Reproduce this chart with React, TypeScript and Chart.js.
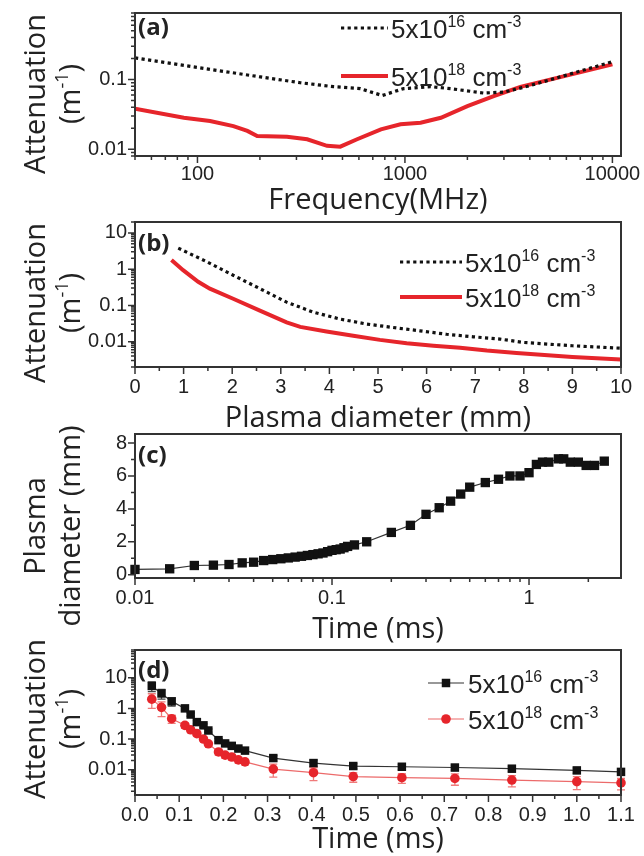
import React, { useEffect, useRef } from 'react';
import { Chart, registerables } from 'chart.js';
Chart.register(...registerables);

const TICK_FONT = '"Liberation Sans", Arial, sans-serif';
const TITLE_FONT = '"Open Sans", sans-serif';
const INK = '#222';
const RED = '#e6252b';
const TITLE_SIZE = 29;

// ---------- (a) attenuation vs frequency ----------
const A_FREQ_16 = [50, 103, 201, 313, 452, 610, 777, 985, 1330, 1660, 2390, 3000, 3900, 10000];
const A_ATT_16 = [0.204, 0.147, 0.109, 0.09, 0.079, 0.074, 0.059, 0.074, 0.079, 0.074, 0.064, 0.066, 0.08, 0.18];
const A_FREQ_18 = [50, 86, 115, 149, 174, 194, 270, 338, 421, 488, 588, 766, 952, 1190, 1490, 2000, 2680, 3600, 10000];
const A_ATT_18 = [0.038, 0.0283, 0.0254, 0.0215, 0.0183, 0.0155, 0.0151, 0.0139, 0.0112, 0.0109, 0.0139, 0.0193, 0.0228, 0.024, 0.0283, 0.0416, 0.0577, 0.0786, 0.165];
const A_X_MAJOR = [100, 1000, 10000];
const A_Y_MAJOR = [0.01, 0.1];

// ---------- (b) attenuation vs plasma diameter ----------
const B_DIA_16 = [0.89, 1.47, 2.02, 2.57, 3.12, 3.67, 4.22, 4.77, 5.31, 5.86, 6.41, 6.96, 7.51, 8, 9, 10];
const B_ATT_16 = [3.8, 1.62, 0.68, 0.29, 0.123, 0.065, 0.042, 0.0306, 0.0246, 0.0199, 0.016, 0.0136, 0.0118, 0.0095, 0.0077, 0.0066];
const B_DIA_18 = [0.75, 0.99, 1.3, 1.54, 2.02, 2.57, 3.12, 3.4, 3.94, 4.49, 5.04, 5.59, 6.14, 6.69, 7.24, 7.85, 9, 10];
const B_ATT_18 = [1.8, 0.94, 0.45, 0.29, 0.153, 0.072, 0.034, 0.0256, 0.019, 0.0145, 0.0112, 0.009, 0.0077, 0.0068, 0.0057, 0.0049, 0.0038, 0.0032];
const B_X_MAJOR = [0, 1, 2, 3, 4, 5, 6, 7, 8, 9, 10];
const B_Y_MAJOR = [0.01, 0.1, 1, 10];

// ---------- (c) plasma diameter vs time ----------
const C_TIME = [0.01, 0.015, 0.02, 0.025, 0.03, 0.035, 0.04, 0.045, 0.05, 0.055, 0.06, 0.065, 0.07, 0.075, 0.08, 0.085, 0.09, 0.095, 0.1, 0.105, 0.11, 0.115, 0.12, 0.13, 0.15, 0.2, 0.25, 0.3, 0.35, 0.4, 0.45, 0.5, 0.6, 0.7, 0.8, 0.9, 1.0, 1.09, 1.17, 1.26, 1.41, 1.5, 1.62, 1.78, 1.95, 2.15, 2.41];
const C_DIA = [0.32, 0.36, 0.56, 0.58, 0.62, 0.72, 0.76, 0.86, 0.92, 0.97, 1.02, 1.07, 1.12, 1.17, 1.22, 1.27, 1.32, 1.4, 1.48, 1.52, 1.56, 1.64, 1.72, 1.81, 2.0, 2.57, 3.0, 3.67, 4.07, 4.47, 4.9, 5.32, 5.6, 5.8, 6.0, 6.0, 6.2, 6.7, 6.84, 6.84, 7.04, 7.04, 6.84, 6.84, 6.64, 6.64, 6.9];
const C_X_MAJOR = [0.01, 0.1, 1];
const C_Y_MAJOR = [0, 2, 4, 6, 8];

// ---------- (d) attenuation vs time ----------
const D_TIME = [0.038, 0.06, 0.083, 0.113, 0.126, 0.14, 0.155, 0.166, 0.189, 0.204, 0.219, 0.234, 0.249, 0.313, 0.404, 0.494, 0.604, 0.724, 0.853, 1.0, 1.1];
const D_ATT_16 = [5.37, 3.06, 1.69, 1.0, 0.63, 0.357, 0.28, 0.19, 0.092, 0.072, 0.06, 0.049, 0.042, 0.024, 0.0165, 0.0132, 0.0125, 0.0118, 0.0108, 0.0095, 0.0085];
const D_ERR_16 = [0.35, 0.35, 0.3, 0.15, 0.12, 0.12, 0.12, 0.12, 0.12, 0.12, 0.12, 0.12, 0.12, 0.2, 0.25, 0.2, 0.2, 0.2, 0.2, 0.2, 0.2];
const D_ATT_18 = [2.0, 1.08, 0.46, 0.28, 0.2, 0.15, 0.1, 0.07, 0.038, 0.03, 0.026, 0.021, 0.018, 0.0105, 0.008, 0.006, 0.0055, 0.0052, 0.0046, 0.0041, 0.0037];
const D_ERR_18 = [0.5, 0.5, 0.3, 0.2, 0.15, 0.15, 0.15, 0.15, 0.2, 0.2, 0.2, 0.2, 0.2, 0.45, 0.45, 0.35, 0.35, 0.4, 0.4, 0.45, 0.4];
const D_X_MAJOR = [0, 0.1, 0.2, 0.3, 0.4, 0.5, 0.6, 0.7, 0.8, 0.9, 1.0, 1.1];
const D_Y_MAJOR = [0.01, 0.1, 1, 10];

// legend labels (base, superscript, base, superscript)
const LEG_16 = [{ t: '5x10' }, { t: '16', sup: true }, { t: ' cm' }, { t: '-3', sup: true }];
const LEG_18 = [{ t: '5x10' }, { t: '18', sup: true }, { t: ' cm' }, { t: '-3', sup: true }];
const Y_ATT = [[{ t: 'Attenuation' }], [{ t: '(m' }, { t: '-1', sup: true }, { t: ')' }]];
const Y_DIA = [[{ t: 'Plasma' }], [{ t: 'diameter (mm)' }]];

type Part = { t: string; sup?: boolean };

const near = (a: number, b: number) => Math.abs(a - b) <= Math.abs(b) * 1e-6 + 1e-9;

function logTicks(min: number, max: number, majors: number[]) {
  const out: any[] = [];
  for (let e = Math.floor(Math.log10(min)) - 1; e <= Math.ceil(Math.log10(max)); e++) {
    for (let m = 1; m <= 9; m++) {
      const v = parseFloat((m * Math.pow(10, e)).toPrecision(8));
      if (v >= min * 0.9999 && v <= max * 1.0001) {
        const mj = majors.find((x) => near(v, x));
        out.push({ value: v, lab: mj !== undefined ? String(mj) : '' });
      }
    }
  }
  return out;
}

function linTicks(min: number, max: number, step: number, majors: number[], fmt: (v: number) => string) {
  const out: any[] = [];
  const n = Math.round((max - min) / step);
  for (let i = 0; i <= n; i++) {
    const v = parseFloat((min + i * step).toFixed(6));
    const mj = majors.find((x) => near(v, x));
    out.push({ value: v, lab: mj !== undefined ? fmt(mj) : '' });
  }
  return out;
}

function drawRich(ctx: CanvasRenderingContext2D, parts: Part[], x: number, y: number, size: number, family: string, align: 'left' | 'center', weight = 'normal') {
  const sup = Math.round(size * 0.62);
  const rise = size * 0.4;
  const ws = parts.map((p) => {
    ctx.font = `${weight} ${p.sup ? sup : size}px ${family}`;
    return ctx.measureText(p.t).width;
  });
  const total = ws.reduce((a, b) => a + b, 0);
  let cx = align === 'center' ? x - total / 2 : x;
  ctx.textAlign = 'left';
  ctx.textBaseline = 'alphabetic';
  parts.forEach((p, i) => {
    ctx.font = `${weight} ${p.sup ? sup : size}px ${family}`;
    ctx.fillText(p.t, cx, p.sup ? y - rise : y);
    cx += ws[i];
  });
}

type Decor = {
  tag: string;
  tagDy: number;
  ytitle: Part[][];
  ytitleX: number[];
  ytitleY: number;
  legend: { ds: number; x0: number; x1: number; dy: number; tx: number; parts: Part[] }[];
};

function makeDecor(d: Decor) {
  return {
    id: 'decor',
    beforeDatasetsDraw(chart: any) {
      const ctx = chart.ctx;
      const ys = chart.scales.y;
      chart.data.datasets.forEach((ds: any, i: number) => {
        if (!ds.errs) return;
        const meta = chart.getDatasetMeta(i);
        ctx.save();
        ctx.strokeStyle = ds.errColor;
        ctx.lineWidth = 1.3;
        meta.data.forEach((pt: any, j: number) => {
          const v = ds.data[j].y;
          const e = ds.errs[j];
          const y0 = ys.getPixelForValue(v * (1 - e));
          const y1 = ys.getPixelForValue(v * (1 + e));
          ctx.beginPath();
          ctx.moveTo(pt.x, y0); ctx.lineTo(pt.x, y1);
          ctx.moveTo(pt.x - 4, y0); ctx.lineTo(pt.x + 4, y0);
          ctx.moveTo(pt.x - 4, y1); ctx.lineTo(pt.x + 4, y1);
          ctx.stroke();
        });
        ctx.restore();
      });
    },
    afterDraw(chart: any) {
      const ctx: CanvasRenderingContext2D = chart.ctx;
      const ca = chart.chartArea;
      const xs = chart.scales.x;
      const ys = chart.scales.y;
      ctx.save();
      // tick marks (major long, minor short), outward
      ctx.strokeStyle = '#333';
      ctx.lineWidth = 1.5;
      ctx.beginPath();
      xs.ticks.forEach((t: any) => {
        const p = xs.getPixelForValue(t.value);
        const len = t.lab ? 7 : 4;
        ctx.moveTo(p, ca.bottom); ctx.lineTo(p, ca.bottom + len);
      });
      ys.ticks.forEach((t: any) => {
        const p = ys.getPixelForValue(t.value);
        const len = t.lab ? 7 : 4;
        ctx.moveTo(ca.left - len, p); ctx.lineTo(ca.left, p);
      });
      ctx.stroke();
      // frame
      ctx.lineWidth = 2;
      ctx.strokeRect(ca.left, ca.top, ca.right - ca.left, ca.bottom - ca.top);
      // panel tag
      ctx.fillStyle = INK;
      ctx.font = `bold 24px ${TITLE_FONT}`;
      ctx.textAlign = 'left';
      ctx.textBaseline = 'middle';
      ctx.fillText(d.tag, ca.left + 3, ca.top + d.tagDy);
      // y title (rotated, two lines)
      d.ytitle.forEach((parts, i) => {
        ctx.save();
        ctx.translate(d.ytitleX[i], d.ytitleY);
        ctx.rotate(-Math.PI / 2);
        ctx.fillStyle = INK;
        drawRich(ctx, parts, 0, 0, TITLE_SIZE, TITLE_FONT, 'center');
        ctx.restore();
      });
      // legend
      d.legend.forEach((L) => {
        const ds = chart.data.datasets[L.ds];
        const y = ca.top + L.dy;
        const x0 = ca.left + L.x0;
        const x1 = ca.left + L.x1;
        ctx.save();
        ctx.strokeStyle = ds.borderColor;
        ctx.lineWidth = ds.borderWidth;
        ctx.setLineDash(ds.borderDash || []);
        ctx.beginPath();
        ctx.moveTo(x0, y); ctx.lineTo(x1, y);
        ctx.stroke();
        ctx.setLineDash([]);
        if (ds.pointRadius > 0) {
          const mx = (x0 + x1) / 2;
          ctx.fillStyle = ds.pointBackgroundColor;
          if (ds.pointStyle === 'rect') {
            const s = ds.pointRadius * Math.SQRT1_2;
            ctx.fillRect(mx - s, y - s, 2 * s, 2 * s);
          } else {
            ctx.beginPath();
            ctx.arc(mx, y, ds.pointRadius, 0, Math.PI * 2);
            ctx.fill();
          }
        }
        ctx.fillStyle = INK;
        drawRich(ctx, L.parts, ca.left + L.tx, y + 9.5, 26, TICK_FONT, 'left');
        ctx.restore();
      });
      ctx.restore();
    },
  };
}

function scaleCfg(opts: {
  axis: 'x' | 'y'; type: string; min: number; max: number; ticks: any[]; size: number; title?: string; titlePB?: number; pad: number;
}) {
  const o: any = {
    type: opts.type,
    min: opts.min,
    max: opts.max,
    afterBuildTicks: (s: any) => {
      s.ticks = opts.ticks.map((t) => ({ value: t.value, lab: t.lab }));
    },
    afterFit: (s: any) => {
      if (opts.axis === 'y') {
        s.width = opts.size;
        s.paddingTop = 0;
        s.paddingBottom = 0;
      } else {
        s.height = opts.size;
        s.paddingLeft = 0;
        s.paddingRight = 0;
      }
    },
    grid: { display: false, drawTicks: false },
    border: { display: false },
    ticks: {
      autoSkip: false,
      maxRotation: 0,
      minRotation: 0,
      padding: opts.pad,
      color: INK,
      font: { family: TICK_FONT, size: 20 },
      callback: (_v: any, i: number, ticks: any[]) => ticks[i].lab || '',
    },
  };
  if (opts.title) {
    o.title = {
      display: true,
      text: opts.title,
      color: INK,
      font: { family: TITLE_FONT, size: TITLE_SIZE, lineHeight: 1 },
      padding: { top: 0, bottom: opts.titlePB || 0 },
    };
  }
  return o;
}

const pts = (xs: number[], ys: number[]) => xs.map((x, i) => ({ x, y: ys[i] }));

function baseOptions(padTop: number, x: any, y: any) {
  return {
    animation: false,
    responsive: false,
    devicePixelRatio: 1,
    events: [],
    layout: { padding: { left: 0, right: 23, top: padTop, bottom: 0 }, autoPadding: false },
    plugins: { legend: { display: false }, tooltip: { enabled: false }, title: { display: false } },
    scales: { x, y },
  };
}

const PANELS = [
  {
    top: 0, height: 215,
    build: () => ({
      type: 'line',
      data: {
        datasets: [
          { data: pts(A_FREQ_16, A_ATT_16), borderColor: '#111', borderWidth: 3.2, borderDash: [3.2, 3.4], pointRadius: 0, tension: 0, fill: false },
          { data: pts(A_FREQ_18, A_ATT_18), borderColor: RED, borderWidth: 4, pointRadius: 0, tension: 0, fill: false },
        ],
      },
      options: baseOptions(13,
        scaleCfg({ axis: 'x', type: 'logarithmic', min: 50, max: 11000, ticks: logTicks(50, 11000, A_X_MAJOR), size: 59, title: 'Frequency(MHz)', pad: 6 }),
        scaleCfg({ axis: 'y', type: 'logarithmic', min: 0.008, max: 0.9, ticks: logTicks(0.008, 0.9, A_Y_MAJOR), size: 135, pad: 8 })),
      plugins: [makeDecor({
        tag: '(a)', tagDy: 15, ytitle: Y_ATT, ytitleX: [45, 80], ytitleY: 94,
        legend: [
          { ds: 0, x0: 206, x1: 253, dy: 15, tx: 256, parts: LEG_16 },
          { ds: 1, x0: 206, x1: 253, dy: 63, tx: 256, parts: LEG_18 },
        ],
      })],
    }),
  },
  {
    top: 215, height: 218,
    build: () => ({
      type: 'line',
      data: {
        datasets: [
          { data: pts(B_DIA_16, B_ATT_16), borderColor: '#111', borderWidth: 3.2, borderDash: [3.2, 3.4], pointRadius: 0, tension: 0, fill: false },
          { data: pts(B_DIA_18, B_ATT_18), borderColor: RED, borderWidth: 4, pointRadius: 0, tension: 0, fill: false },
        ],
      },
      options: baseOptions(7,
        scaleCfg({ axis: 'x', type: 'linear', min: 0, max: 10, ticks: linTicks(0, 10, 0.5, B_X_MAJOR, (v) => String(v)), size: 66, title: 'Plasma diameter (mm)', pad: 8 }),
        scaleCfg({ axis: 'y', type: 'logarithmic', min: 0.002, max: 20, ticks: logTicks(0.002, 20, B_Y_MAJOR), size: 135, pad: 8 })),
      plugins: [makeDecor({
        tag: '(b)', tagDy: 22, ytitle: Y_ATT, ytitleX: [45, 80], ytitleY: 88,
        legend: [
          { ds: 0, x0: 265, x1: 327, dy: 40, tx: 330, parts: LEG_16 },
          { ds: 1, x0: 265, x1: 327, dy: 75, tx: 330, parts: LEG_18 },
        ],
      })],
    }),
  },
  {
    top: 413, height: 231,
    build: () => ({
      type: 'line',
      data: {
        datasets: [
          { data: pts(C_TIME, C_DIA), borderColor: '#333', borderWidth: 1.2, pointStyle: 'rect', pointRadius: 6.6, pointBackgroundColor: '#111', pointBorderColor: '#111', pointBorderWidth: 0, tension: 0, fill: false, clip: false },
        ],
      },
      options: baseOptions(21,
        scaleCfg({ axis: 'x', type: 'logarithmic', min: 0.01, max: 2.93, ticks: logTicks(0.01, 2.93, C_X_MAJOR), size: 66, title: 'Time (ms)', pad: 8 }),
        scaleCfg({ axis: 'y', type: 'linear', min: -0.2, max: 8.55, ticks: linTicks(0, 8, 1, C_Y_MAJOR, (v) => String(v)), size: 135, pad: 8 })),
      plugins: [makeDecor({
        tag: '(c)', tagDy: 22, ytitle: Y_DIA, ytitleX: [45, 80], ytitleY: 113, legend: [],
      })],
    }),
  },
  {
    top: 624, height: 232,
    build: () => ({
      type: 'line',
      data: {
        datasets: [
          { data: pts(D_TIME, D_ATT_16), errs: D_ERR_16, errColor: '#444', borderColor: '#333', borderWidth: 1.2, pointStyle: 'rect', pointRadius: 6, pointBackgroundColor: '#111', pointBorderColor: '#111', pointBorderWidth: 0, tension: 0, fill: false, clip: false },
          { data: pts(D_TIME, D_ATT_18), errs: D_ERR_18, errColor: '#f07a7a', borderColor: '#ec6a6a', borderWidth: 1.2, pointStyle: 'circle', pointRadius: 4.8, pointBackgroundColor: RED, pointBorderColor: RED, pointBorderWidth: 0, tension: 0, fill: false, clip: false },
        ],
      },
      options: baseOptions(26,
        scaleCfg({ axis: 'x', type: 'linear', min: 0, max: 1.1, ticks: linTicks(0, 1.1, 0.05, D_X_MAJOR, (v) => v.toFixed(1)), size: 61, title: 'Time (ms)', titlePB: 2, pad: 8 }),
        scaleCfg({ axis: 'y', type: 'logarithmic', min: 0.0015, max: 80, ticks: logTicks(0.0015, 80, D_Y_MAJOR), size: 135, pad: 8 })),
      plugins: [makeDecor({
        tag: '(d)', tagDy: 21, ytitle: Y_ATT, ytitleX: [45, 80], ytitleY: 95,
        legend: [
          { ds: 0, x0: 293, x1: 329, dy: 33, tx: 333, parts: LEG_16 },
          { ds: 1, x0: 293, x1: 329, dy: 69, tx: 333, parts: LEG_18 },
        ],
      })],
    }),
  },
];

function Panel({ p }: { p: (typeof PANELS)[number] }) {
  const ref = useRef<HTMLCanvasElement>(null);
  useEffect(() => {
    const chart = new Chart(ref.current as HTMLCanvasElement, p.build() as any);
    return () => chart.destroy();
  }, []);
  return (
    <canvas
      ref={ref}
      width={644}
      height={p.height}
      style={{ position: 'absolute', left: 0, top: p.top, width: 644, height: p.height }}
    />
  );
}

export default function App() {
  return (
    <div style={{ position: 'absolute', left: 0, top: 0, width: 644, height: 856, background: '#fff', overflow: 'hidden' }}>
      {PANELS.map((p, i) => (
        <Panel key={i} p={p} />
      ))}
    </div>
  );
}
